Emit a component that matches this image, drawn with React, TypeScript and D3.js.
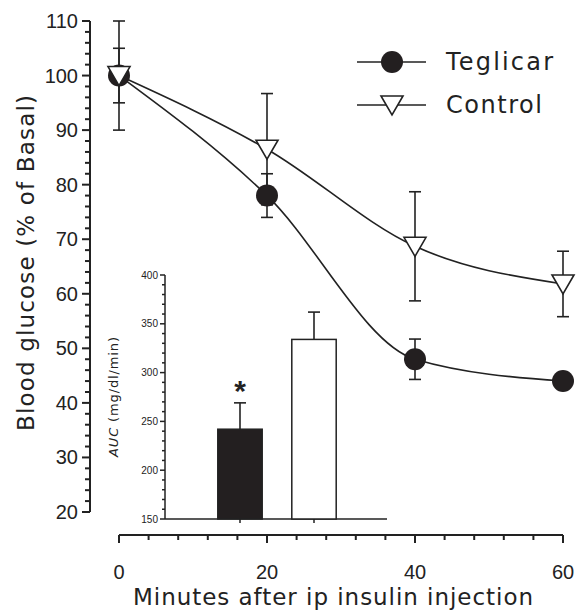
import * as d3 from "d3";

// glucose time course, % of basal
const minutes = [0, 20, 40, 60];
const teglicar = [100, 78, 48, 44];
const teglicarErr = [5, 4, 3.7, 1];
const control = [100, 86.5, 68.7, 61.8];
const controlErr = [10, 10.2, 10, 6];

const xTicks = [0, 20, 40, 60];
const yTicks = [20, 30, 40, 50, 60, 70, 80, 90, 100, 110];

// inset: area under curve
const aucGroups = ["Teglicar", "Control"];
const aucValues = [242, 334];
const aucErr = [27, 28];
const aucTicks = [150, 200, 250, 300, 350, 400];

const W = 579;
const H = 614;
const FONT = "'Liberation Sans', Arial, sans-serif";
const TITLE_FONT = "'DejaVu Sans', Verdana, sans-serif";

const x = d3.scaleLinear().domain([0, 60]).range([119, 563]);
const y = d3.scaleLinear().domain([20, 110]).range([512, 21]);
const AXIS_X = 90;
const AXIS_Y = 535;

const ix = d3.scaleBand<string>().domain(aucGroups).range([203, 351]).paddingInner(0.4).paddingOuter(0.2);
const iy = d3.scaleLinear().domain([150, 400]).range([519, 275]);
const INSET_X = 165;
const INSET_RIGHT = 387;

// downward triangle, centred on its bounding box
const tri = (cx: number, cy: number) => `M${cx - 11},${cy - 9}L${cx + 11},${cy - 9}L${cx},${cy + 10}Z`;

const curve = d3
  .line<number>()
  .x((_, i) => x(minutes[i]))
  .curve(d3.curveMonotoneX);

function ErrorBar({ cx, v, e, scale }: { cx: number; v: number; e: number; scale: d3.ScaleLinear<number, number> }) {
  const top = scale(v + e);
  const bot = scale(v - e);
  return (
    <g stroke="#222" strokeWidth={1.6}>
      <line x1={cx} x2={cx} y1={top} y2={bot} />
      <line x1={cx - 6} x2={cx + 6} y1={top} y2={top} />
      <line x1={cx - 6} x2={cx + 6} y1={bot} y2={bot} />
    </g>
  );
}

export default function App() {
  const tegLine = curve.y((d) => y(d))(teglicar) ?? "";
  const ctlLine = curve.y((d) => y(d))(control) ?? "";
  const yMinor = d3.range(20, 111, 2);
  const xMinor = d3.range(0, 61, 4);
  const aucMinor = d3.range(150, 401, 10);

  return (
    <svg
      width={W}
      height={H}
      style={{ position: "absolute", left: 0, top: 0, background: "#fff" }}
      fontFamily={FONT}
    >
      {/* main y axis */}
      <g stroke="#222" strokeWidth={2}>
        <line x1={AXIS_X} x2={AXIS_X} y1={y(20)} y2={y(110)} />
        {yMinor.map((t) => (
          <line key={t} x1={AXIS_X - (t % 10 === 0 ? 8 : 5)} x2={AXIS_X} y1={y(t)} y2={y(t)} />
        ))}
      </g>
      {yTicks.map((t) => (
        <text key={t} x={AXIS_X - 12} y={y(t)} dy="0.35em" textAnchor="end" fontSize={20} fill="#222">
          {t}
        </text>
      ))}
      <text
        transform={`translate(34,263) rotate(-90)`}
        textAnchor="middle"
        fontSize={23}
        fontFamily={TITLE_FONT}
        textLength={336}
        fill="#222"
      >
        Blood glucose (% of Basal)
      </text>

      {/* main x axis */}
      <g stroke="#222" strokeWidth={2}>
        <line x1={x(0)} x2={x(60)} y1={AXIS_Y} y2={AXIS_Y} />
        {xMinor.map((t) => (
          <line key={t} x1={x(t)} x2={x(t)} y1={AXIS_Y} y2={AXIS_Y + (t % 20 === 0 ? 8 : 5)} />
        ))}
      </g>
      {xTicks.map((t) => (
        <text key={t} x={x(t)} y={579} textAnchor="middle" fontSize={20} fill="#222">
          {t}
        </text>
      ))}
      <text x={333} y={605} textAnchor="middle" fontSize={23} fontFamily={TITLE_FONT} textLength={400} fill="#222">
        Minutes after ip insulin injection
      </text>

      {/* inset bar chart */}
      <g stroke="#222" strokeWidth={1.5}>
        <line x1={INSET_X} x2={INSET_X} y1={iy(150)} y2={iy(400)} />
        <line x1={INSET_X} x2={INSET_RIGHT} y1={iy(150)} y2={iy(150)} />
        {aucMinor.map((t) => (
          <line key={t} x1={INSET_X - (t % 50 === 0 ? 5 : 3)} x2={INSET_X} y1={iy(t)} y2={iy(t)} />
        ))}
        {aucGroups.map((g) => (
          <line key={g} x1={ix(g)! + ix.bandwidth() / 2} x2={ix(g)! + ix.bandwidth() / 2} y1={iy(150)} y2={iy(150) + 4} />
        ))}
      </g>
      {aucTicks.map((t) => (
        <text key={t} x={INSET_X - 7} y={iy(t)} dy="0.35em" textAnchor="end" fontSize={10} fill="#222">
          {t}
        </text>
      ))}
      <text
        transform={`translate(118,397) rotate(-90)`}
        textAnchor="middle"
        fontSize={13}
        fontFamily={TITLE_FONT}
        textLength={120}
        fill="#222"
      >
        <tspan fontStyle="italic">AUC</tspan> (mg/dl/min)
      </text>
      {aucGroups.map((g, i) => {
        const cx = ix(g)! + ix.bandwidth() / 2;
        return (
          <g key={g}>
            <ErrorBar cx={cx} v={aucValues[i]} e={aucErr[i]} scale={iy} />
            <rect
              x={ix(g)}
              y={iy(aucValues[i])}
              width={ix.bandwidth()}
              height={iy(150) - iy(aucValues[i])}
              fill={i === 0 ? "#231f20" : "#fff"}
              stroke="#222"
              strokeWidth={1.5}
            />
          </g>
        );
      })}
      <text x={ix("Teglicar")! + ix.bandwidth() / 2} y={iy(aucValues[0] + aucErr[0]) - 2} textAnchor="middle" fontSize={30} fontWeight="bold" fill="#222">
        *
      </text>

      {/* curves */}
      <path d={tegLine} fill="none" stroke="#222" strokeWidth={1.6} />
      <path d={ctlLine} fill="none" stroke="#222" strokeWidth={1.6} />
      {minutes.map((m, i) => (
        <ErrorBar key={"te" + m} cx={x(m)} v={teglicar[i]} e={teglicarErr[i]} scale={y} />
      ))}
      {minutes.map((m, i) => (
        <ErrorBar key={"ce" + m} cx={x(m)} v={control[i]} e={controlErr[i]} scale={y} />
      ))}
      {minutes.map((m, i) => (
        <circle key={"tm" + m} cx={x(m)} cy={y(teglicar[i])} r={11} fill="#231f20" />
      ))}
      {minutes.map((m, i) => (
        <path key={"cm" + m} d={tri(x(m), y(control[i]))} fill="#fff" stroke="#222" strokeWidth={1.6} />
      ))}

      {/* legend */}
      <g stroke="#222" strokeWidth={1.6}>
        <line x1={357} x2={426} y1={62} y2={62} />
        <line x1={357} x2={426} y1={105} y2={105} />
      </g>
      <circle cx={392} cy={62} r={11} fill="#231f20" />
      <path d={tri(392, 105)} fill="#fff" stroke="#222" strokeWidth={1.6} />
      <text x={446} y={62} dy="0.35em" fontSize={24} fontFamily={TITLE_FONT} textLength={107} fill="#222">
        Teglicar
      </text>
      <text x={446} y={105} dy="0.35em" fontSize={24} fontFamily={TITLE_FONT} textLength={96} fill="#222">
        Control
      </text>
    </svg>
  );
}
